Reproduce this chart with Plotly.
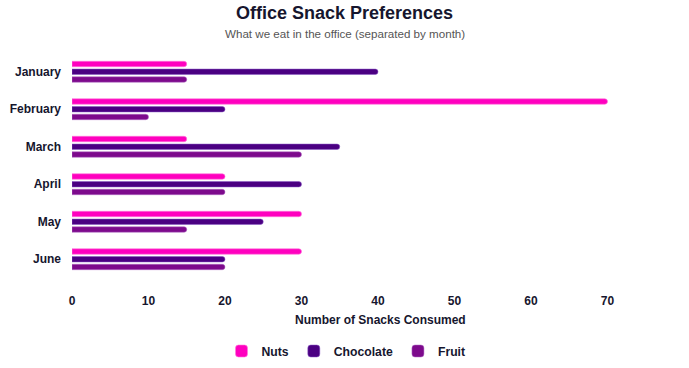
import plotly.graph_objects as go

months = ["January", "February", "March", "April", "May", "June"]
nuts = [15, 70, 15, 20, 30, 30]
chocolate = [40, 20, 35, 30, 25, 20]
fruit = [15, 10, 30, 20, 15, 20]
x_ticks = [0, 10, 20, 30, 40, 50, 60, 70]

series = [
    ("Nuts", nuts, "#ff00bf", "rgba(255,120,220,0.6)"),
    ("Chocolate", chocolate, "#4b0082", "rgba(140,90,200,0.5)"),
    ("Fruit", fruit, "#7d0a8c", "rgba(180,110,200,0.5)"),
]

fig = go.Figure()
for name, vals, col, edge in series:
    fig.add_trace(go.Bar(
        y=months, x=vals, name=name, orientation="h",
        marker=dict(color=col, line=dict(color=edge, width=1), cornerradius=3),
    ))

font_family = "Liberation Sans, Arial, sans-serif"
dark = "#16162e"

L, R, T, B = 72, 5, 53, 90
W, H = 689, 368
pw, ph = W - L - R, H - T - B

fig.update_layout(
    width=W, height=H,
    barmode="group", bargap=0.38, bargroupgap=0.3,
    plot_bgcolor="white", paper_bgcolor="white",
    margin=dict(l=L, r=R, t=T, b=B, autoexpand=False),
    font=dict(family=font_family, color=dark),
    showlegend=True,
    legend=dict(orientation="h", x=(346 - L) / pw, xanchor="center",
                y=-(351 - (H - B)) / ph, yanchor="middle",
                font=dict(size=12.2, color=dark, family=font_family, weight="bold"),
                itemwidth=30, tracegroupgap=0),
)

cx = (344.5 - L) / pw
fig.add_annotation(text="Office Snack Preferences", xref="paper", yref="paper",
                   x=cx, y=1 + (T - 13) / ph, showarrow=False,
                   xanchor="center", yanchor="middle",
                   font=dict(size=18, color=dark, weight="bold"))
fig.add_annotation(text="What we eat in the office (separated by month)", xref="paper", yref="paper",
                   x=cx, y=1 + (T - 33.5) / ph, showarrow=False,
                   xanchor="center", yanchor="middle", font=dict(size=11.6, color="#555555"))
fig.add_annotation(text="Number of Snacks Consumed", xref="paper", yref="paper",
                   x=(380 - L) / pw, y=-(320 - (H - B)) / ph, showarrow=False,
                   xanchor="center", yanchor="middle",
                   font=dict(size=12, color=dark, weight="bold"))

fig.update_xaxes(
    range=[0, 80], tickvals=x_ticks, showgrid=False, zeroline=False, showline=False,
    tickfont=dict(size=12, color=dark, family=font_family, weight="bold"), ticks="",
    ticklabelstandoff=14, automargin=False,
    fixedrange=True,
)
fig.update_yaxes(
    autorange="reversed", showgrid=False, zeroline=False, showline=False, ticks="",
    tickfont=dict(size=12, color=dark, family=font_family, weight="bold"),
    ticklabelstandoff=10, automargin=False,
    fixedrange=True,
)

fig.write_html("out.html", post_script="document.body.style.margin='0';",
               config={"displayModeBar": False})
